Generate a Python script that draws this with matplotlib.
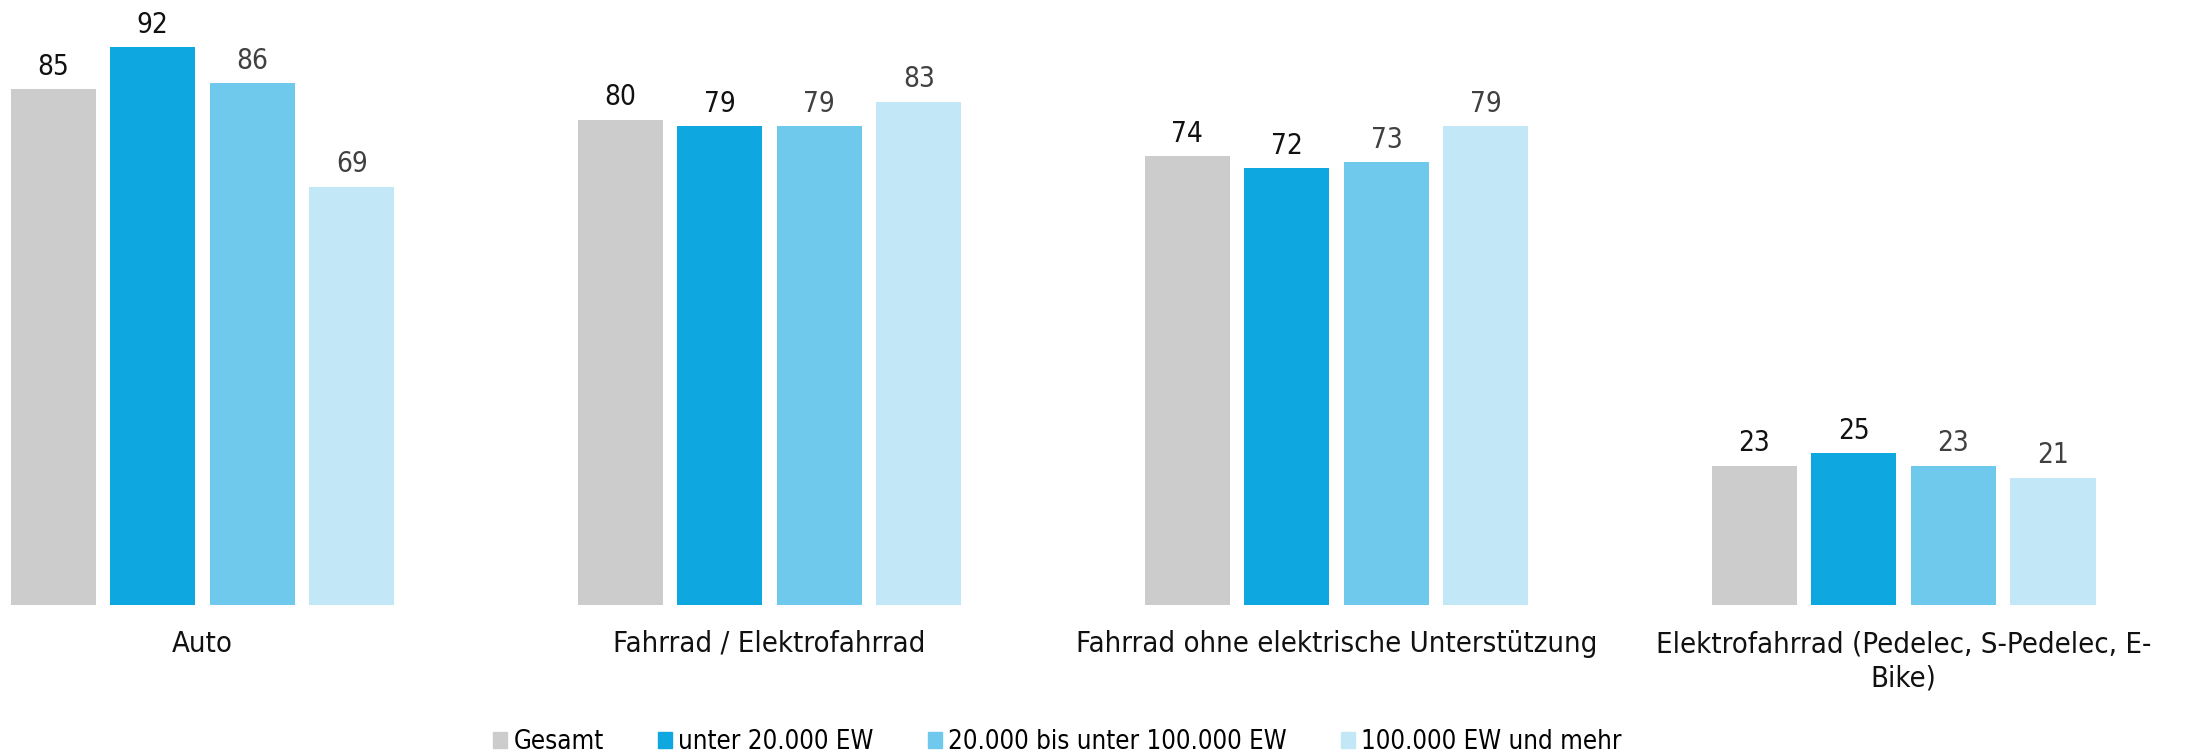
import matplotlib
matplotlib.use("Agg")
import matplotlib.pyplot as plt
from matplotlib.patches import Rectangle
import numpy as np

categories = [
    "Auto",
    "Fahrrad / Elektrofahrrad",
    "Fahrrad ohne elektrische Unterstützung",
    "Elektrofahrrad (Pedelec, S-Pedelec, E-\nBike)",
]
series_names = ["Gesamt", "unter 20.000 EW", "20.000 bis unter 100.000 EW", "100.000 EW und mehr"]
gesamt = [85, 80, 74, 23]
unter_20k = [92, 79, 72, 25]
von_20k_bis_100k = [86, 79, 73, 23]
ab_100k = [69, 83, 79, 21]

series_values = [gesamt, unter_20k, von_20k_bis_100k, ab_100k]
colors = ["#CCCCCC", "#0FA7DF", "#6FC9EC", "#C2E7F6"]
label_colors = ["#111111", "#111111", "#404040", "#404040"]

plt.rcParams["font.family"] = ["DejaVu Sans"]
plt.rcParams["font.stretch"] = "condensed"

fig = plt.figure(figsize=(21.85, 7.55), dpi=100)
ax = fig.add_axes([0.0, 150 / 755, 1.0, 606.5 / 755])

x = np.arange(len(categories))
step = 0.1755
width = 0.15
for i, (vals, col, lcol) in enumerate(zip(series_values, colors, label_colors)):
    offs = (i - 1.5) * step
    bars = ax.bar(x + offs, vals, width=width, color=col, label=series_names[i])
    ax.bar_label(bars, labels=[str(v) for v in vals], padding=6, fontsize=20,
                 color=lcol)

ax.set_xlim(-0.357, 3.496)
ax.set_ylim(0, 100)
ax.set_xticks(x)
ax.set_xticklabels(categories, fontsize=21, color="#111111", linespacing=1.3)
ax.tick_params(axis="x", length=0, pad=18)
ax.set_yticks([])
for s in ax.spines.values():
    s.set_visible(False)

handles = [Rectangle((0, 0), 1, 1, color=c) for c in colors]
fig.legend(handles, series_names, loc="center", bbox_to_anchor=(1057.5 / 2185, 1 - 742 / 755),
           ncol=4, frameon=False, fontsize=18.5, handlelength=0.55, handleheight=0.55,
           handletextpad=0.25, columnspacing=2.1, borderpad=0.2)

fig.savefig("out.png", dpi=100)
